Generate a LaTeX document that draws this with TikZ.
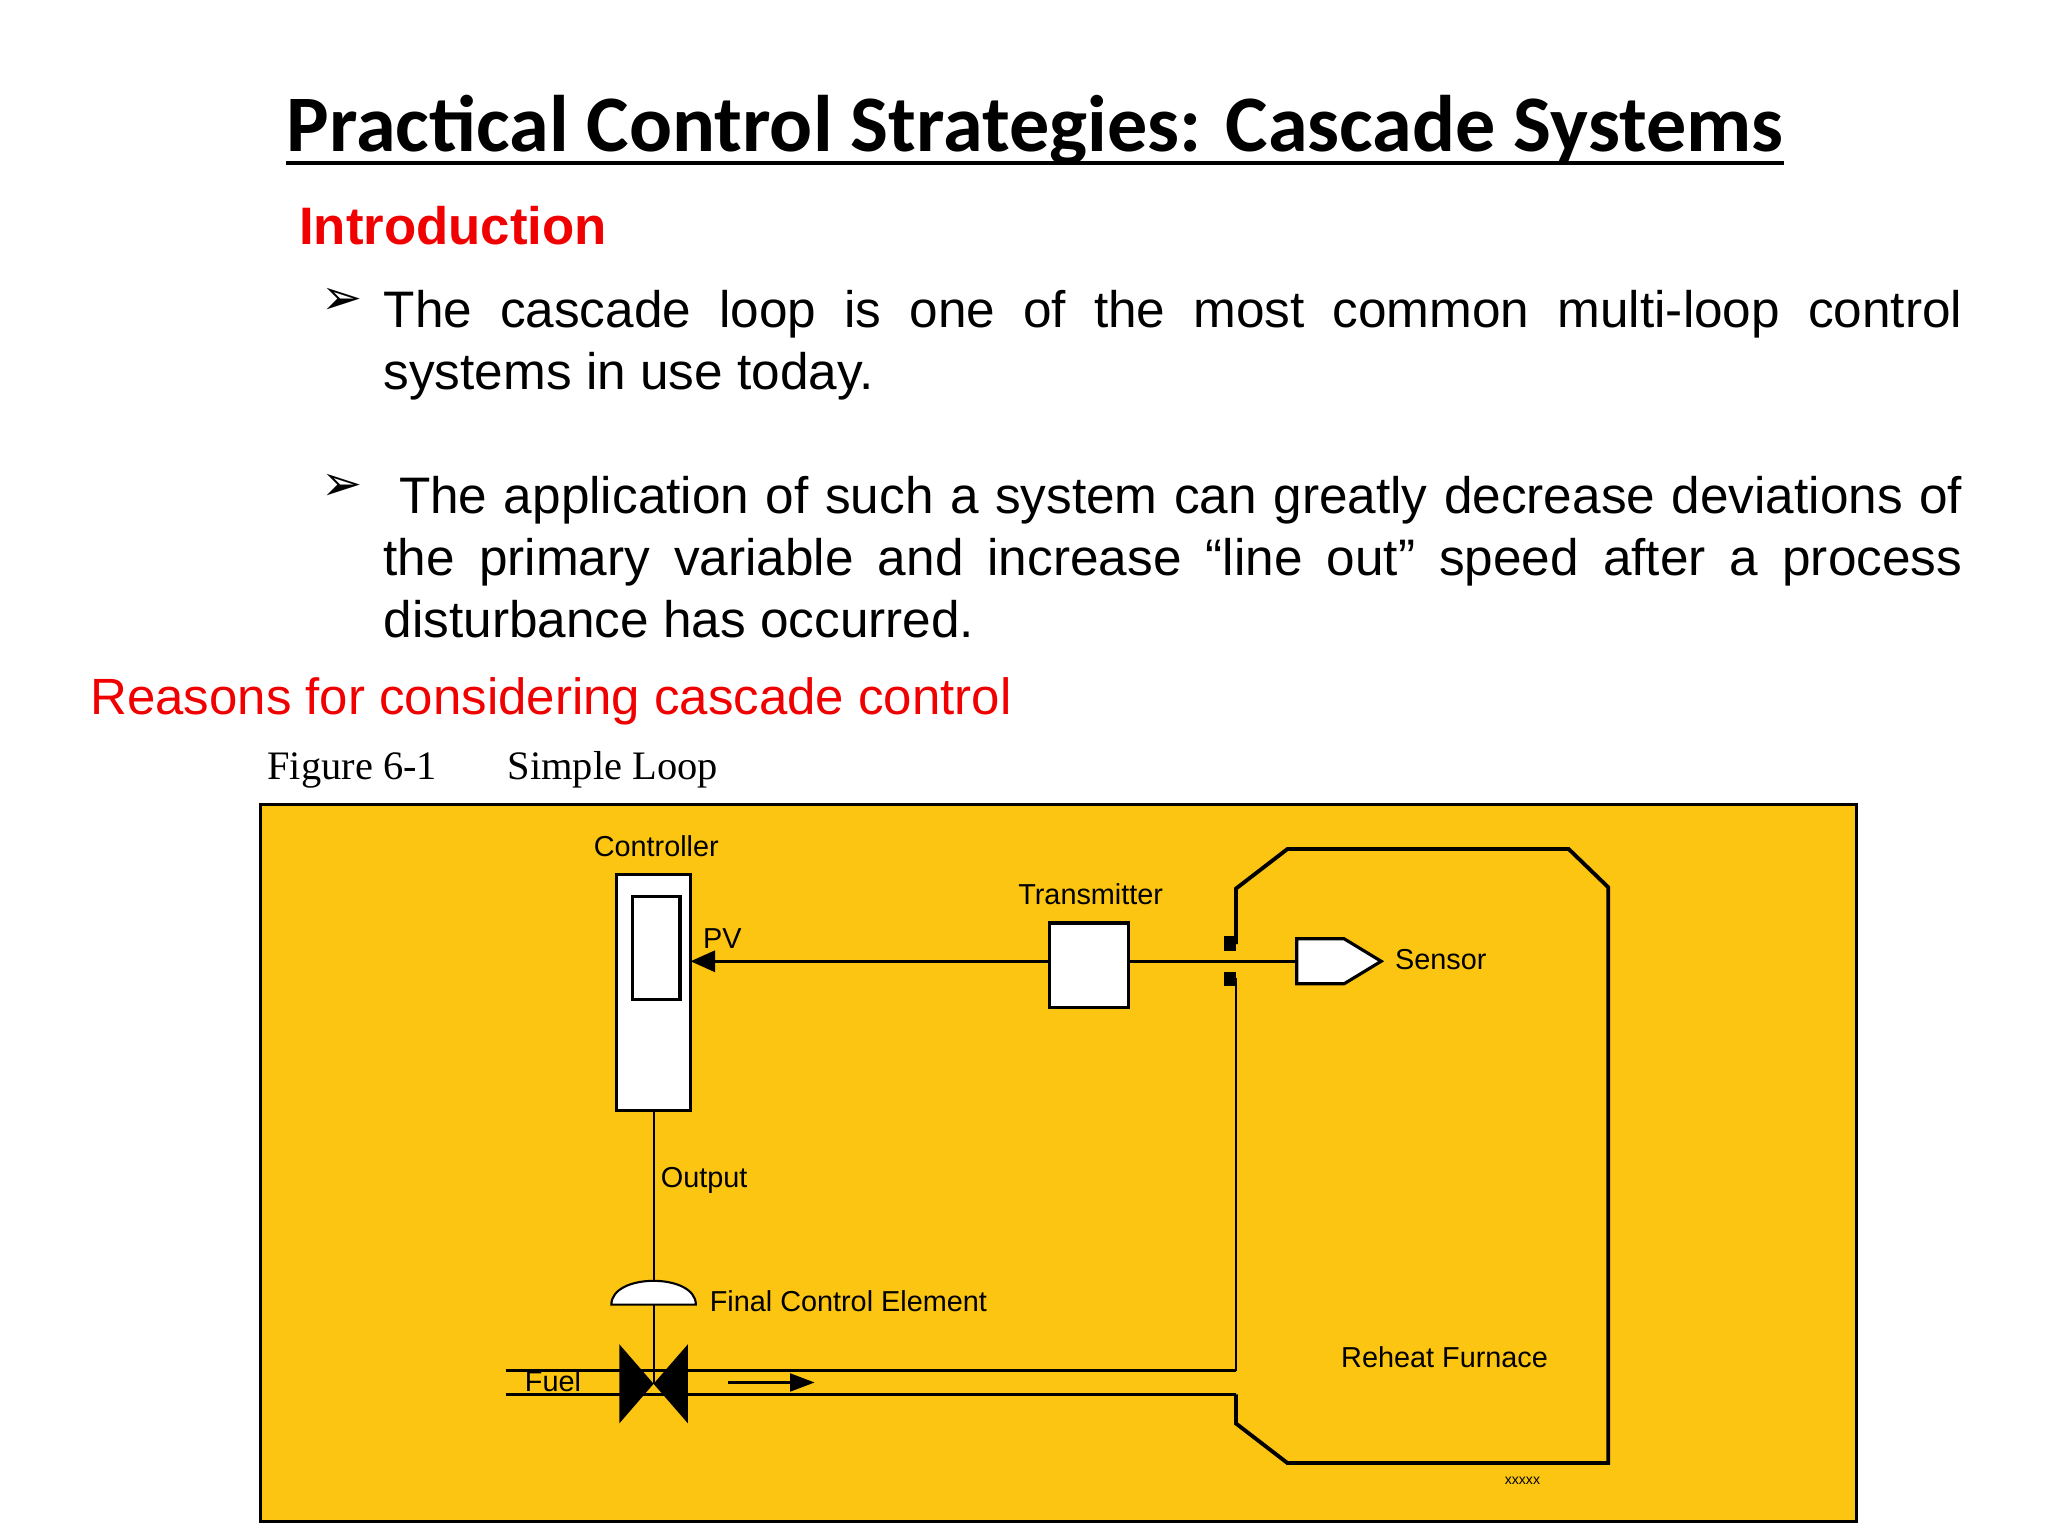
\documentclass[tikz,border=0pt]{standalone}
\usepackage{fontspec}
\setmainfont{Liberation Sans}
\newfontfamily\carlito{Carlito}
\newfontfamily\tnr{Liberation Serif}
\newfontfamily\dejavu{DejaVu Sans}
\usetikzlibrary{arrows.meta}
\definecolor{furn}{HTML}{FCC511}
\definecolor{redt}{HTML}{F00000}
\tikzset{
  lbl/.style={inner sep=0pt, font=\fontsize{8.2}{10}\selectfont, anchor=base west},
  box/.style={draw, fill=white, line width=0.9pt, inner sep=0pt, outer sep=0pt},
  pipe/.style={line width=0.9pt},
  wall/.style={line width=1.1pt},
  bul/.style={inner sep=0pt, anchor=base west, font=\dejavu\fontsize{14}{17}\selectfont}
}
\begin{document}
\begin{tikzpicture}[x=0.013205cm, y=-0.013205cm]
\useasboundingbox (0,0) rectangle (1551,1163);
% title
\node[inner sep=0pt, anchor=base] (title) at (784,115)
  {\carlito\bfseries\fontsize{22.8}{26}\selectfont Practical Control Strategies: Cascade Systems};
\draw[line width=1.3pt] ([yshift=-3.2pt]title.base west) -- ([yshift=-3.2pt]title.base east);
\node[inner sep=0pt, anchor=base west, text=redt, font=\bfseries\fontsize{15}{18}\selectfont] (intro) at (226,185) {Introduction};
\node[bul] (b1) at (243,238) {➢};
\node[bul] (b2) at (243,379) {➢};
\node[inner sep=0pt, anchor=base west] (p1) at (290,248)
  {\fontsize{14.6}{17.6}\selectfont\parbox[t]{449pt}{The cascade loop is one of the most common multi-loop control\linebreak systems in use today.}};
\node[inner sep=0pt, anchor=base west] (p2) at (290,389)
  {\fontsize{14.6}{17.6}\selectfont\parbox[t]{449pt}{\hspace*{0.3em}The application of such a system can greatly decrease deviations of\linebreak the primary variable and increase “line out” speed after a process\linebreak disturbance has occurred.}};
\node[inner sep=0pt, anchor=base west, text=redt, font=\fontsize{14.5}{18}\selectfont] (reasons) at (68,541) {Reasons for considering cascade control};
\node[inner sep=0pt, anchor=base west, font=\tnr\fontsize{11.5}{14}\selectfont] (fig) at (202,590) {Figure 6-1};
\node[inner sep=0pt, anchor=base west, font=\tnr\fontsize{11.5}{14}\selectfont] (figt) at (384,590) {Simple Loop};
% panel
\draw[fill=furn, line width=0.9pt] (197,609) rectangle (1406,1152);
% controller
\node[box, minimum width=21pt, minimum height=67.3pt, anchor=north west] (ctrl) at (467,662) {};
\draw[box] (479,679) rectangle (515,757);
\coordinate (ctrlE) at (ctrl.east |- 0,728);
\node[lbl, anchor=base] (ctrllbl) at (497,649) {Controller};
% transmitter
\node[box, minimum width=22.5pt, minimum height=24pt, anchor=north west] (tx) at (795,699) {};
\node[lbl, anchor=base] (txlbl) at (826,685) {Transmitter};
\node[lbl] (pv) at (532,718) {PV};
\draw[pipe, -{Triangle[length=7pt,width=6pt]}] (tx.west |- ctrlE) -- (ctrlE);
% sensor
\draw[box] (982,711) -- (1018,711) -- (1046,728) -- (1018,745) -- (982,745) -- cycle;
\coordinate (sensW) at (982,728);
\draw[pipe] (tx.east |- sensW) -- (sensW);
\node[lbl] (senslbl) at (1056,734) {Sensor};
\fill (927,709) rectangle (936,720);
\fill (927,736) rectangle (936,747);
% furnace
\draw[wall] (936,715) -- (936,673) -- (975,643) -- (1188,643) -- (1218,672) -- (1218,1108) -- (975,1108) -- (936,1078) -- (936,1056);
\draw[line width=0.6pt] (936,741) -- (936,1038);
\node[lbl, anchor=base] (furnlbl) at (1094,1036) {Reheat Furnace};
\node[inner sep=0pt, anchor=base, font=\fontsize{4}{5}\selectfont] (xx) at (1153,1124) {xxxxx};
% pipes
\coordinate (valve) at (ctrl.south |- 0,1048);
\draw[pipe] (383,1038) -- (936,1038);
\draw[pipe] (383,1056) -- (936,1056);
\node[lbl] (fuel) at (397,1054) {Fuel};
\draw[pipe, -{Triangle[length=7pt,width=5pt]}] (551,1047) -- (617,1047);
% stem and actuator
\draw[line width=0.6pt] (ctrl.south) -- (valve);
\draw[fill=white, line width=0.6pt] (463,988) .. controls (463,964) and (527,964) .. (527,988) -- cycle;
\fill (469,1018) -- (469,1078) -- (valve) -- cycle;
\fill (521,1018) -- (521,1078) -- (valve) -- cycle;
\node[lbl] (outlbl) at (500,899) {Output};
\node[lbl] (fcelbl) at (537,993) {Final Control Element};
\end{tikzpicture}
\end{document}
